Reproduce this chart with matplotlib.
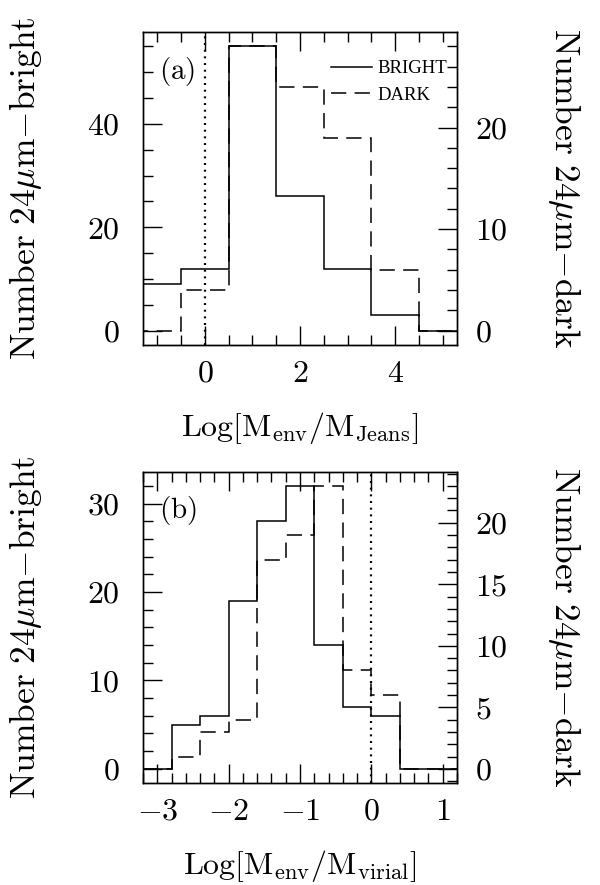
import matplotlib
matplotlib.use("Agg")
import matplotlib.pyplot as plt
from matplotlib.ticker import MultipleLocator, FuncFormatter

plt.rcParams.update({
    "mathtext.fontset": "cm",
    "font.family": "serif",
    "font.serif": ["cmr10", "DejaVu Serif"],
    "axes.formatter.use_mathtext": True,
    "lines.scale_dashes": False,
    "axes.linewidth": 1.0,
})

# --- data ---
# panel (a): histogram in Log[M_env/M_Jeans]
jeans_edges = [-1.5, -0.5, 0.5, 1.5, 2.5, 3.5, 4.5, 5.5]
jeans_bright = [9, 12, 55, 26, 12, 3, 0]
jeans_dark = [0, 4, 28, 24, 19, 6, 0]

# panel (b): histogram in Log[M_env/M_virial]
virial_edges = [-3.2, -2.8, -2.4, -2.0, -1.6, -1.2, -0.8, -0.4, 0.0, 0.4, 0.8, 1.2]
virial_bright = [0, 5, 6, 19, 28, 32, 14, 7, 6, 0, 0]
virial_dark = [0, 1, 3, 4, 17, 19, 23, 8, 6, 0, 0]

series_labels = ["BRIGHT", "DARK"]

FS = 23
YFS = 25.5
mfmt = FuncFormatter(lambda v, p: f"${v:g}$")


def panel(fig, rect, edges, bright, dark, xlim, xticks, yticks_l, yticks_r,
          xlabel, tag, legend=False):
    ax = fig.add_axes(rect)
    h1 = ax.stairs(bright, edges, baseline=0, color="black", lw=1.1,
                   label=series_labels[0])
    ax.axvline(0, color="black", lw=1.6, ls=(0, (1.4, 3.4)))
    ax.set_xlim(xlim)
    ax.set_ylim(-0.05 * max(bright), 1.05 * max(bright))

    ax2 = ax.twinx()
    h2 = ax2.stairs(dark, edges, baseline=0, color="black", lw=1.1,
                    ls=(0, (11, 6)), label=series_labels[1])
    ax2.set_ylim(-0.05 * max(dark), 1.05 * max(dark))

    ax.xaxis.set_major_locator(MultipleLocator(xticks[0]))
    ax.xaxis.set_minor_locator(MultipleLocator(xticks[1]))
    ax.yaxis.set_major_locator(MultipleLocator(yticks_l[0]))
    ax.yaxis.set_minor_locator(MultipleLocator(yticks_l[1]))
    ax2.yaxis.set_major_locator(MultipleLocator(yticks_r[0]))
    ax2.yaxis.set_minor_locator(MultipleLocator(yticks_r[1]))
    for a in (ax.xaxis, ax.yaxis, ax2.yaxis):
        a.set_major_formatter(mfmt)

    ax.tick_params(which="both", direction="in", top=True, right=False,
                   width=1.0, labelsize=FS)
    ax.tick_params(which="major", length=14)
    ax.tick_params(which="minor", length=7)
    ax.tick_params(axis="y", pad=17)
    ax.tick_params(axis="x", pad=11)
    ax2.tick_params(which="both", direction="in", width=1.0, labelsize=FS,
                    pad=13)
    ax2.tick_params(which="major", length=14)
    ax2.tick_params(which="minor", length=7)

    ax.set_xlabel(xlabel, fontsize=FS, labelpad=16)
    ax.set_ylabel(r"$\mathrm{Number\ 24}\mu\mathrm{m{-}bright}$",
                  fontsize=YFS)
    ax.yaxis.set_label_coords(-0.315, 0.5)
    ax2.set_ylabel(r"$\mathrm{Number\ 24}\mu\mathrm{m{-}dark}$",
                   fontsize=YFS, rotation=-90, va="bottom")
    ax2.yaxis.set_label_coords(1.285, 0.5)

    ax.text(0.05, 0.875, tag, transform=ax.transAxes, fontsize=21,
            ha="left", va="center")

    if legend:
        ax2.legend(handles=[h1, h2], loc="upper right",
                   bbox_to_anchor=(1.0, 0.94), frameon=False,
                   prop={"family": "Liberation Serif", "size": 13.5},
                   handlelength=2.2, handletextpad=0.3, labelspacing=0.5,
                   borderpad=0.0, borderaxespad=0.5)
    return ax, ax2


fig = plt.figure(figsize=(6, 8.85), dpi=100)

panel(fig, [143 / 600, 1 - 345 / 885, 314 / 600, 313 / 885],
      jeans_edges, jeans_bright, jeans_dark, (-1.3, 5.3),
      (2, 0.5), (20, 5), (10, 2),
      r"$\mathrm{Log[M_{env}/M_{Jeans}]}$", r"$\mathrm{(a)}$", legend=True)

panel(fig, [143 / 600, 1 - 783 / 885, 314 / 600, 311.3 / 885],
      virial_edges, virial_bright, virial_dark, (-3.2, 1.2),
      (1, 0.2), (10, 2), (5, 1),
      r"$\mathrm{Log[M_{env}/M_{virial}]}$", r"$\mathrm{(b)}$")

fig.savefig("out.png", dpi=100)
